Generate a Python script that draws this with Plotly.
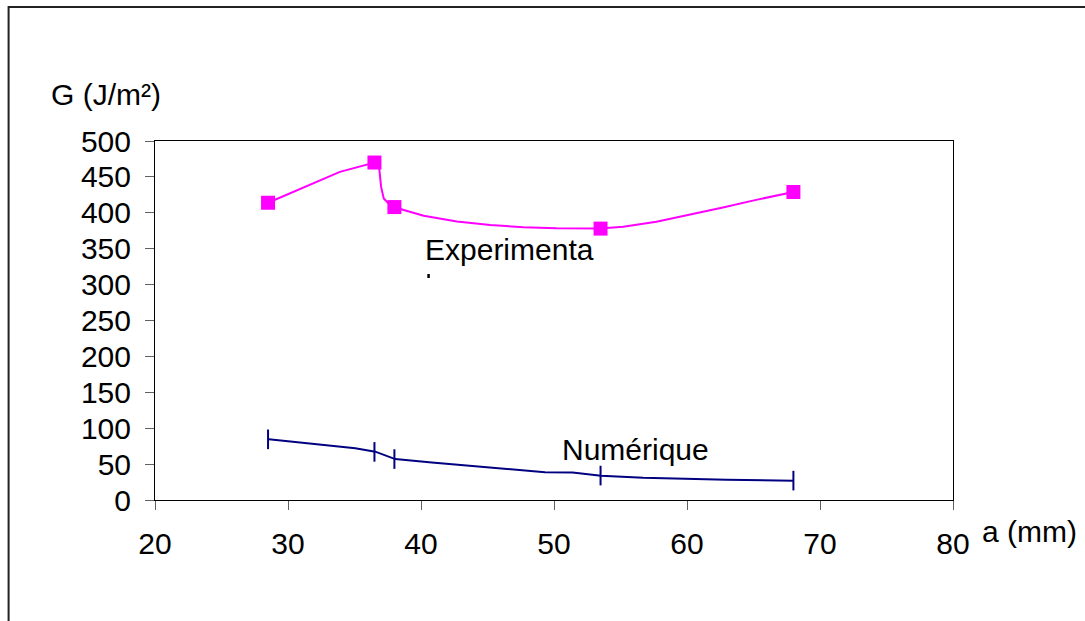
import plotly.graph_objects as go

# Measured crack lengths a (mm) where G was evaluated
a_points = [28.5, 36.5, 38.0, 53.5, 68.0]

# Experimental energy release rate G (J/m²) at the measured points
g_exp = [414, 470, 408, 378, 429]
# Drawn trend of the experimental curve
a_exp_curve = [28.5, 33.9, 36.5, 36.86, 37.0, 37.2, 37.56, 38.0, 38.7, 40.2, 42.7, 45.2,
               47.7, 50.2, 53.45, 55.2, 57.7, 60.2, 62.7, 65.2, 67.2, 68.0]
g_exp_curve = [414, 457, 470, 462, 436, 420, 413, 408, 404, 396, 388, 383,
               380, 378.5, 378, 380.5, 387.5, 397, 407.5, 418, 426, 429]

# Numerical G (J/m²) at the same crack lengths
g_num = [84.5, 67, 57, 34, 27]
# Drawn trend of the numerical curve
a_num_curve = [28.55, 35.06, 36.56, 38.06, 40.81, 49.32, 51.4, 53.53, 56.7, 59.84, 62.97, 68.0]
g_num_curve = [84.5, 72, 67.3, 57, 52.4, 38.5, 38.3, 33.9, 31, 29.2, 28.2, 26.9]

x_ticks = [20, 30, 40, 50, 60, 70, 80]
y_ticks = [0, 50, 100, 150, 200, 250, 300, 350, 400, 450, 500]

MAGENTA = "#FF00FF"
NAVY = "#000080"
FONT = "Liberation Sans, Arial, sans-serif"
FS = 30

W, H = 1085, 621
L, R, T, B = 154.5, 953.0, 141.0, 500.0
pw, ph = R - L, B - T


def px(xp):
    return (xp - L) / pw


def py(yp):
    return (B - yp) / ph


fig = go.Figure()

fig.add_trace(go.Scatter(x=a_exp_curve, y=g_exp_curve, mode="lines",
                         line=dict(color=MAGENTA, width=2), hoverinfo="skip",
                         showlegend=False))
fig.add_trace(go.Scatter(x=a_points, y=g_exp, mode="markers", name="Experimental",
                         marker=dict(symbol="square", size=14, color=MAGENTA,
                                     line=dict(width=0)),
                         showlegend=False))

fig.add_trace(go.Scatter(x=a_num_curve, y=g_num_curve, mode="lines",
                         line=dict(color=NAVY, width=2), hoverinfo="skip",
                         showlegend=False))
fig.add_trace(go.Scatter(x=a_points, y=g_num, mode="markers", name="Numérique",
                         marker=dict(symbol="line-ns", size=14, color=NAVY,
                                     line=dict(width=2, color=NAVY)),
                         showlegend=False))

axis_common = dict(showgrid=False, zeroline=False, showline=True, linecolor="#000000",
                   linewidth=1, mirror=True, ticks="outside", ticklen=9,
                   tickcolor="#606060", tickwidth=1,
                   tickfont=dict(family=FONT, size=FS, color="#000000"))

fig.update_xaxes(range=[20, 80], tickvals=x_ticks, ticktext=[str(v) for v in x_ticks],
                 ticklabelstandoff=8, **axis_common)
fig.update_yaxes(range=[0, 500], tickvals=y_ticks, ticktext=[str(v) for v in y_ticks],
                 ticklabelstandoff=8, **axis_common)

annotations = [
    dict(text="G (J/m²)", x=px(48), y=py(94), xanchor="left", yanchor="middle"),
    dict(text="a (mm)", x=px(980), y=py(531), xanchor="left", yanchor="middle"),
    dict(text="Experimenta", x=px(423), y=py(249), xanchor="left", yanchor="middle"),
    dict(text="Numérique", x=px(560), y=py(449), xanchor="left", yanchor="middle"),
]
for ann in annotations:
    ann.update(xref="paper", yref="paper", showarrow=False,
               font=dict(family=FONT, size=FS, color="#000000"))

shapes = [
    # outer chart frame
    dict(type="rect", xref="paper", yref="paper",
         x0=px(8), x1=px(1100), y0=py(640), y1=py(7),
         line=dict(color="#222222", width=2), fillcolor="rgba(0,0,0,0)", layer="below"),
    # top of the wrapped final letter of the series label
    dict(type="rect", xref="paper", yref="paper",
         x0=px(427), x1=px(429.5), y0=py(278), y1=py(274),
         line=dict(width=0), fillcolor="#000000"),
]

fig.update_layout(
    width=W, height=H,
    margin=dict(l=L, r=W - R, t=T, b=H - B),
    paper_bgcolor="white", plot_bgcolor="white",
    font=dict(family=FONT, size=FS, color="#000000"),
    annotations=annotations, shapes=shapes, showlegend=False,
)

fig.write_html("out.html")
